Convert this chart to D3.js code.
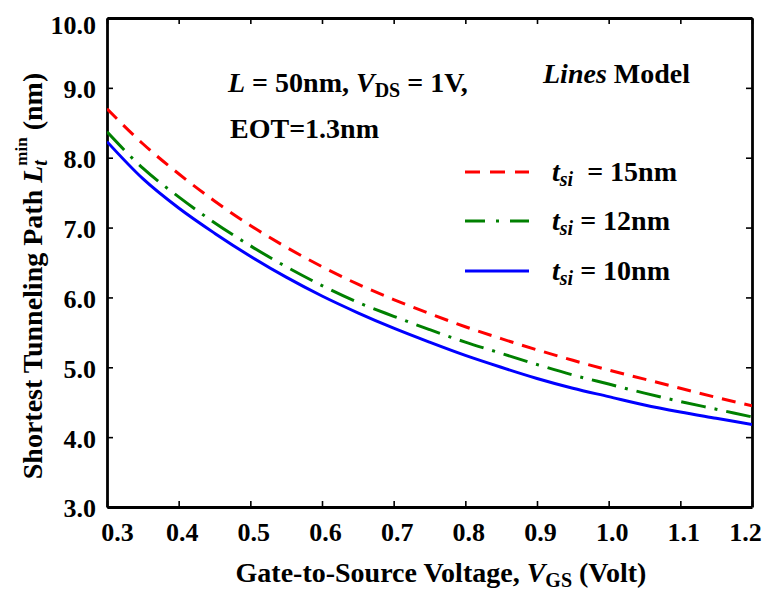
<!DOCTYPE html>
<html>
<head>
<meta charset="utf-8">
<script src="https://cdn.jsdelivr.net/npm/d3@7"></script>
<style>
  html, body { margin: 0; padding: 0; background: #fff; }
  svg { display: block; }
  text { font-family: "Liberation Serif", "Times New Roman", serif; font-weight: bold; fill: #000; }
</style>
</head>
<body>
<svg id="chart" width="768" height="590"></svg>
<script>
// Gate-to-source voltage samples (V)
const vgs = [0.30, 0.35, 0.40, 0.45, 0.50, 0.55, 0.60, 0.65, 0.70, 0.75,
             0.80, 0.85, 0.90, 0.95, 1.00, 1.05, 1.10, 1.15, 1.20];
// Shortest tunneling path (nm) for each silicon thickness
const lt15 = [8.70, 8.20, 7.77, 7.38, 7.03, 6.72, 6.44, 6.19, 5.97, 5.77,
              5.58, 5.41, 5.25, 5.10, 4.96, 4.83, 4.70, 4.57, 4.45];
const lt12 = [8.37, 7.85, 7.44, 7.07, 6.74, 6.44, 6.17, 5.93, 5.73, 5.54,
              5.36, 5.20, 5.04, 4.89, 4.76, 4.63, 4.51, 4.40, 4.29];
const lt10 = [8.23, 7.70, 7.28, 6.92, 6.59, 6.29, 6.02, 5.78, 5.56, 5.36,
              5.17, 5.00, 4.84, 4.70, 4.58, 4.46, 4.36, 4.27, 4.18];
const seriesNames = ["15nm", "12nm", "10nm"];

const xTicks = [0.3, 0.4, 0.5, 0.6, 0.7, 0.8, 0.9, 1.0, 1.1, 1.2];
const yTicks = [3, 4, 5, 6, 7, 8, 9, 10];

const svg = d3.select("#chart");
const plotL = 107, plotR = 752, plotT = 18, plotB = 507;
const labelSize = 28, subSize = 20, tickFont = 26;

const x = d3.scaleLinear().domain([0.3, 1.2]).range([plotL, plotR]);
const y = d3.scaleLinear().domain([3, 10]).range([plotB, plotT]);

// Frame with inward ticks on all four sides
const tick = 6;
function styleAxis(g) {
  g.select(".domain").attr("stroke", "#000").attr("stroke-width", 2.8);
  g.selectAll(".tick line").attr("stroke", "#000").attr("stroke-width", 1.6);
}
function styleLabels(g) {
  g.selectAll(".tick text")
    .attr("fill", "#000")
    .style("font-size", tickFont + "px")
    .style("font-family", "'Liberation Serif', 'Times New Roman', serif")
    .style("font-weight", "bold");
}
const lastX = xTicks.length - 1;
svg.append("g").attr("transform", `translate(0,${plotB})`)
  .call(d3.axisBottom(x).tickValues(xTicks).tickSize(-tick).tickSizeOuter(0).tickFormat(d3.format(".1f")))
  .call(styleAxis)
  .call(styleLabels)
  // end labels are nudged inward so they stay within the frame
  .call(g => g.selectAll(".tick text").attr("y", 34).attr("dy", 0)
    .attr("x", (d, i) => i === 0 ? 10 : (i === lastX ? -7 : 3)));
svg.append("g").attr("transform", `translate(0,${plotT})`)
  .call(d3.axisTop(x).tickValues(xTicks).tickSize(-tick).tickSizeOuter(0).tickFormat(""))
  .call(styleAxis);
svg.append("g").attr("transform", `translate(${plotL},0)`)
  .call(d3.axisLeft(y).tickValues(yTicks).tickSize(-tick).tickSizeOuter(0).tickFormat(d3.format(".1f")))
  .call(styleAxis)
  .call(styleLabels)
  .call(g => g.selectAll(".tick text").attr("x", -11)
    .attr("dy", d => d === 10 ? "0.58em" : "0.38em"));
svg.append("g").attr("transform", `translate(${plotR},0)`)
  .call(d3.axisRight(y).tickValues(yTicks).tickSize(-tick).tickSizeOuter(0).tickFormat(""))
  .call(styleAxis);

// Curves
const styles = [
  { data: lt15, color: "#ff0000", dash: "14,9" },
  { data: lt12, color: "#008000", dash: "25,9,3,9" },
  { data: lt10, color: "#0000ff", dash: null }
];
const line = d3.line()
  .x((d, i) => x(vgs[i]))
  .y(d => y(d))
  .curve(d3.curveMonotoneX);

svg.append("clipPath").attr("id", "plot-clip")
  .append("rect").attr("x", plotL).attr("y", plotT).attr("width", plotR - plotL).attr("height", plotB - plotT);

svg.append("g").attr("clip-path", "url(#plot-clip)")
  .selectAll("path.curve").data(styles).join("path")
  .attr("class", "curve")
  .attr("d", s => line(s.data))
  .attr("fill", "none")
  .attr("stroke", s => s.color)
  .attr("stroke-width", 3)
  .attr("stroke-dasharray", s => s.dash);

// Annotations
const ann = svg.append("text").attr("x", 228).attr("y", 92).style("font-size", labelSize + "px");
ann.append("tspan").attr("font-style", "italic").text("L");
ann.append("tspan").text(" = 50nm, ");
ann.append("tspan").attr("font-style", "italic").text("V");
ann.append("tspan").style("font-size", subSize + "px").attr("dy", 5).text("DS");
ann.append("tspan").attr("dy", -5).text(" = 1V,");

svg.append("text").attr("x", 230).attr("y", 138).style("font-size", labelSize + "px").text("EOT=1.3nm");

const model = svg.append("text").attr("x", 543).attr("y", 83).style("font-size", labelSize + "px");
model.append("tspan").attr("font-style", "italic").text("Lines");
model.append("tspan").text(" Model");

// Legend
const legendY = [172, 221, 271];
const legend = svg.append("g").selectAll("g").data(styles).join("g");
legend.append("line")
  .attr("x1", 465).attr("x2", 529)
  .attr("y1", (d, i) => legendY[i]).attr("y2", (d, i) => legendY[i])
  .attr("stroke", d => d.color).attr("stroke-width", 3)
  .attr("stroke-dasharray", (d, i) => i === 0 ? "15,10" : (i === 1 ? "20,11,3,11" : null));
const lt = legend.append("text")
  .attr("x", 552).attr("y", (d, i) => legendY[i] + 9)
  .attr("xml:space", "preserve")
  .style("font-size", labelSize + "px");
lt.append("tspan").attr("font-style", "italic").text("t");
lt.append("tspan").attr("font-style", "italic").style("font-size", subSize + "px").attr("dy", 5).text("si");
lt.append("tspan").attr("dy", -5).text((d, i) => (i === 0 ? "  = " : " = ") + seriesNames[i]);

// Axis titles
const xl = svg.append("text").attr("x", 441).attr("y", 582).attr("text-anchor", "middle").style("font-size", labelSize + "px");
xl.append("tspan").text("Gate-to-Source Voltage, ");
xl.append("tspan").attr("font-style", "italic").text("V");
xl.append("tspan").style("font-size", subSize + "px").attr("dy", 5).text("GS");
xl.append("tspan").attr("dy", -5).text(" (Volt)");

const yl = svg.append("text")
  .attr("transform", "translate(42,276) rotate(-90)")
  .attr("text-anchor", "middle").style("font-size", labelSize + "px");
yl.append("tspan").text("Shortest Tunneling Path ");
yl.append("tspan").attr("font-style", "italic").text("L");
const sub = yl.append("tspan").attr("font-style", "italic").style("font-size", subSize + "px").attr("dy", 5).text("t");
const subW = sub.node().getComputedTextLength();
yl.append("tspan").style("font-size", "17px").attr("dx", -subW).attr("dy", -20).text("min");
yl.append("tspan").attr("dy", 15).text(" (nm)");
</script>
</body>
</html>
